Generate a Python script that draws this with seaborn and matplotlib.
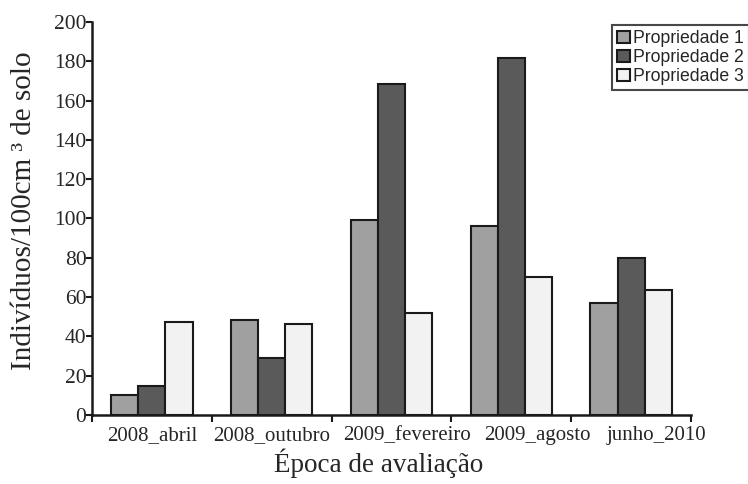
import numpy as np
import pandas as pd
import matplotlib
matplotlib.use("Agg")
import matplotlib.pyplot as plt
import seaborn as sns

# dados
epocas = ["2008_abril", "2008_outubro", "2009_fevereiro", "2009_agosto", "junho_2010"]
propriedades = ["Propriedade 1", "Propriedade 2", "Propriedade 3"]
prop1 = [10, 48.5, 99, 96, 57]
prop2 = [15, 29, 168.5, 181.5, 80]
prop3 = [47.5, 46.5, 52, 70, 63.5]
cores = ["#a0a0a0", "#5a5a5a", "#f2f2f2"]

df = pd.DataFrame({
    "epoca": epocas * 3,
    "prop": np.repeat(propriedades, len(epocas)),
    "valor": prop1 + prop2 + prop3,
})

sns.set_style("ticks")
serif = ["Liberation Serif", "DejaVu Serif"]
sans = ["Liberation Sans", "DejaVu Sans"]

fig = plt.figure(figsize=(7.48, 4.84), dpi=100)
ax = fig.add_axes([0.123, 0.1426, 0.801, 0.812])

sns.barplot(data=df, x="epoca", y="valor", hue="prop", order=epocas,
            hue_order=propriedades, palette=cores, width=0.68, gap=0,
            edgecolor="#1a1a1a", linewidth=1.5, ax=ax, legend=False)

ax.set_xlim(-0.5, 4.5)
ax.set_ylim(0, 200)
ax.set_yticks(range(0, 201, 20))
ax.set_yticklabels([str(v) for v in range(0, 201, 20)], fontfamily=serif, fontsize=15.5)

# marcas entre grupos; rótulos deslocados como no original
ax.set_xticks(np.arange(-0.5, 5, 1.0))
ax.set_xticklabels([])
desloc = [0, 0, 0.13, 0.22, 0.21]
ax.set_xticks([i + d for i, d in enumerate(desloc)], minor=True)
ax.set_xticklabels(epocas, minor=True, fontfamily=serif, fontsize=15)
ax.tick_params(axis="x", which="major", bottom=True, direction="out", length=5, width=1.5, color="#1a1a1a")
ax.tick_params(axis="x", which="minor", bottom=True, length=0, pad=8)
ax.tick_params(axis="y", left=True, direction="out", length=4, width=1.5, color="#1a1a1a", pad=0)

for s in ["top", "right"]:
    ax.spines[s].set_visible(False)
for s in ["left", "bottom"]:
    ax.spines[s].set_color("#1a1a1a")
    ax.spines[s].set_linewidth(1.8)

ax.set_xlabel("Época de avaliação", fontfamily=serif, fontsize=19.5)
ax.xaxis.set_label_coords(0.478, -0.085, transform=ax.transAxes)
ax.xaxis.label.set_va("top")
ax.set_ylabel("Indivíduos/100cm ³ de solo", fontfamily=serif, fontsize=21)
ax.yaxis.set_label_coords(-0.092, 0.52)

handles = [plt.Rectangle((0, 0), 1, 1, facecolor=c, edgecolor="#1a1a1a", linewidth=1.5) for c in cores]
leg = fig.legend(handles, propriedades, loc="upper left", bbox_to_anchor=(0.818, 0.948),
                 prop={"family": sans, "size": 12.7}, frameon=True, fancybox=False,
                 handlelength=0.7, handleheight=0.7, handletextpad=0.2,
                 labelspacing=0.1, borderpad=0.3, borderaxespad=0)
leg.get_frame().set_edgecolor("#1a1a1a")
leg.get_frame().set_linewidth(1.5)

fig.savefig("out.png", dpi=100)
